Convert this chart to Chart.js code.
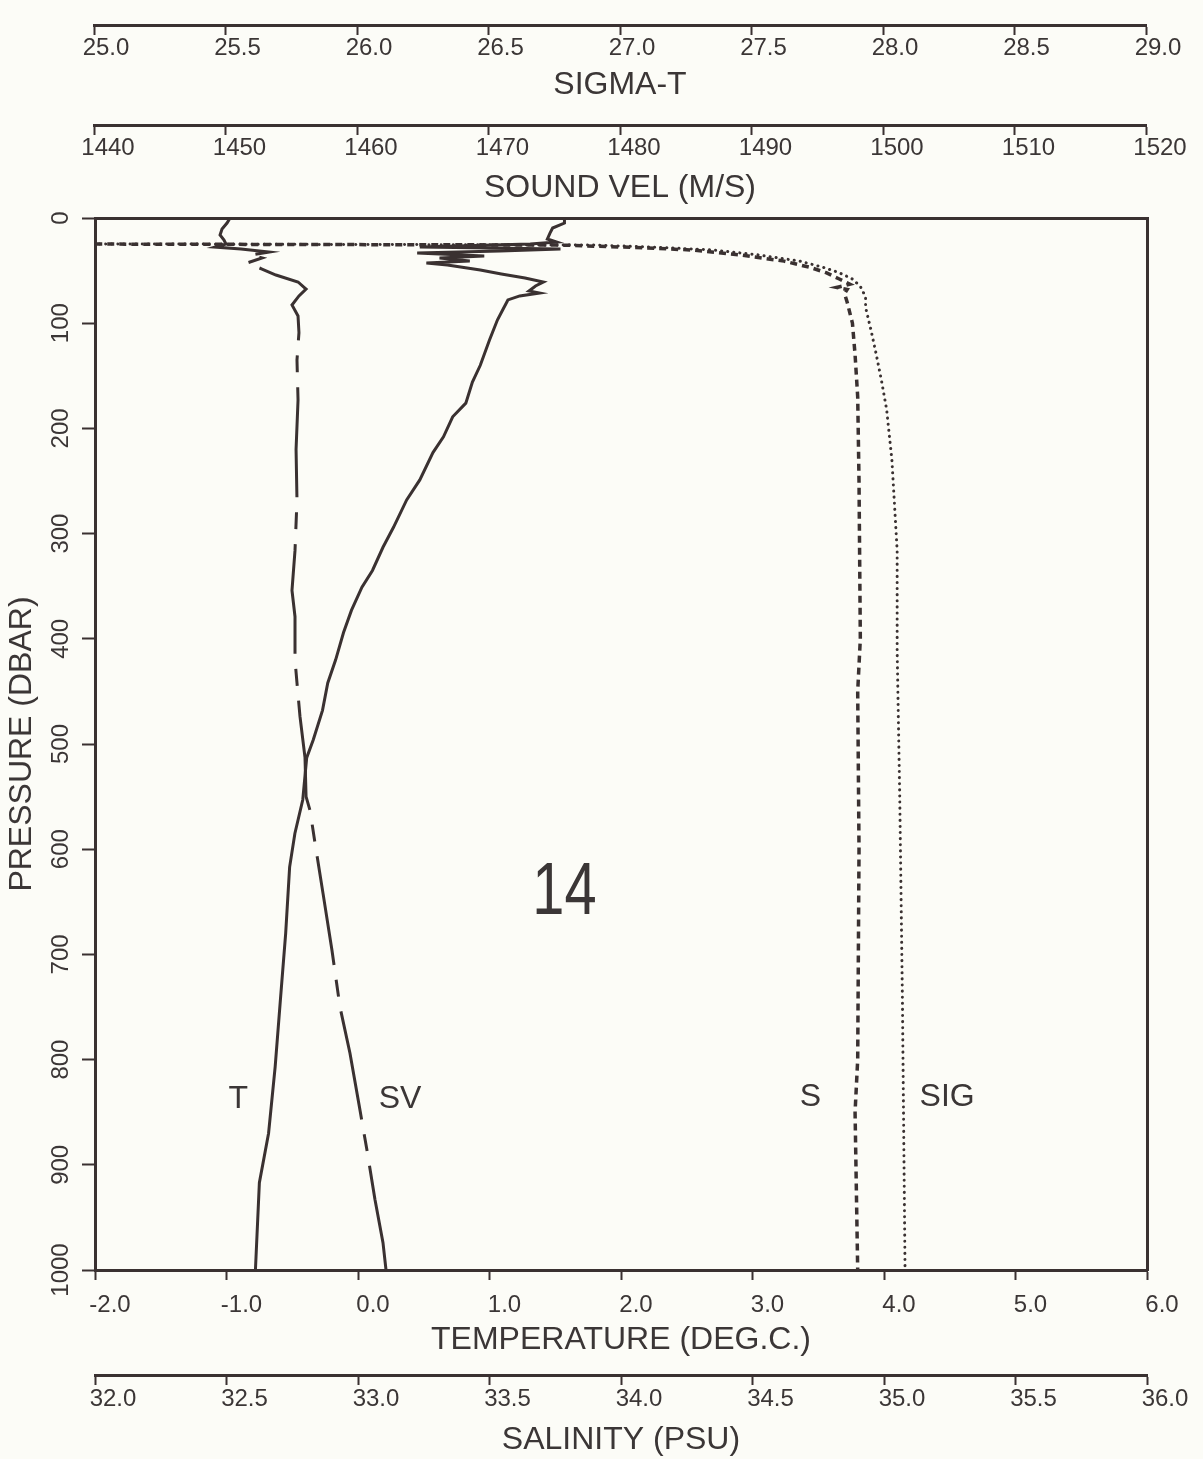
<!DOCTYPE html>
<html>
<head>
<meta charset="utf-8">
<script src="https://cdn.jsdelivr.net/npm/chart.js@4.4.1/dist/chart.umd.min.js"></script>
<style>
  html, body { margin: 0; padding: 0; background: #fcfcf7; }
  #wrap { position: relative; width: 1203px; height: 1459px; overflow: hidden; }
  canvas { position: absolute; left: 0; top: 0; }
</style>
</head>
<body>
<div id="wrap">
  <canvas id="main" width="1203" height="1459"></canvas>
  <canvas id="topAxes" width="1203" height="215"></canvas>
</div>
<script>
// ---------------- DATA ----------------
// Temperature profile (deg C) vs pressure (dbar)
const pressureT = [0, 4.8, 9.5, 14.3, 20, 22.8, 24.7, 27.6, 29.5, 31.4, 33.3, 36.1, 38.0, 40.9, 42.8, 44.7, 49.4, 53.2, 57.0, 60.8, 64.6, 69.4, 71.3, 74.1, 77.9, 87.5, 97, 116, 140, 156, 176, 189, 208, 223, 249, 268, 294, 313, 335, 351, 373, 394, 420, 442, 468, 496, 513, 553, 585, 617, 680, 743, 807, 870, 917, 1000];
const temperature = [1.57, 1.57, 1.48, 1.46, 1.44, 1.51, 1.31, 0.47, 1.54, 1.08, 0.45, 0.96, 0.62, 0.85, 0.52, 0.68, 0.93, 1.09, 1.27, 1.41, 1.35, 1.30, 1.38, 1.23, 1.14, 1.10, 1.06, 1.00, 0.93, 0.87, 0.82, 0.72, 0.65, 0.57, 0.47, 0.37, 0.27, 0.19, 0.11, 0.03, -0.05, -0.11, -0.17, -0.23, -0.27, -0.34, -0.39, -0.42, -0.48, -0.52, -0.55, -0.59, -0.63, -0.68, -0.75, -0.78];

// Sound velocity profile (m/s)
const pressureSV = [0, 4.8, 10.5, 16.2, 20.9, 24.7, 27.6, 29.5, 32.3, 35.2, 38, 42.8, 48.5, 54.2, 60.8, 67.5, 74.1, 82.7, 93.2, 109, 135, 173, 220, 268, 316, 354, 379, 420, 442, 474, 513, 550, 563, 594, 642, 696, 750, 794, 848, 886, 933, 974, 1000];
const soundVel = [1450.27, 1450.04, 1449.66, 1449.51, 1449.81, 1449.96, 1449.13, 1451.10, 1453.23, 1451.79, 1452.70, 1451.56, 1452.70, 1453.76, 1455.44, 1456.05, 1455.51, 1454.98, 1455.44, 1455.51, 1455.36, 1455.44, 1455.29, 1455.36, 1455.21, 1454.98, 1455.21, 1455.21, 1455.36, 1455.59, 1455.97, 1456.05, 1456.35, 1456.73, 1457.34, 1458.02, 1458.63, 1459.39, 1460.15, 1460.68, 1461.29, 1461.90, 1462.13];

// Salinity profile (PSU) - surface values are below the axis range
const pressureS = [0, 24, 25.7, 28, 30.4, 35, 41, 47, 52, 58, 63, 66, 68, 72, 80, 100, 130, 170, 250, 400, 450, 600, 800, 850, 1000];
const salinity = [30.5, 30.5, 33.77, 34.05, 34.27, 34.45, 34.62, 34.72, 34.78, 34.83, 34.87, 34.82, 34.86, 34.85, 34.86, 34.88, 34.89, 34.90, 34.905, 34.91, 34.90, 34.905, 34.90, 34.89, 34.90];

// Sigma-t profile - surface values are below the axis range
const pressureSig = [0, 24, 25.7, 28, 30.4, 35, 41, 47, 52, 58, 65, 75, 85, 106, 129, 154, 182, 230, 316, 411, 553, 743, 1000];
const sigmaT = [24.0, 24.0, 26.9, 27.15, 27.35, 27.52, 27.68, 27.77, 27.83, 27.88, 27.91, 27.93, 27.93, 27.95, 27.97, 27.99, 28.01, 28.03, 28.05, 28.05, 28.06, 28.07, 28.08];

// Axis ranges and tick steps
const pressureRange = [0, 1000, 100];
const temperatureRange = [-2, 6, 1];
const salinityRange = [32, 36, 0.5];
const soundVelRange = [1440, 1520, 10];
const sigmaRange = [25, 29, 0.5];

// Text labels placed in data coordinates (temperature, pressure)
const noteTexts = ['T', 'SV', 'S', 'SIG', '14'];
const noteTemp = [-0.91, 0.32, 3.44, 4.48, 1.57];
const notePres = [838, 838, 836, 836, 642];

// ---------------- STYLE ----------------
const INK = '#3a3131';
const TXT = '#3b3636';
const FONT = "'Liberation Sans', Arial, sans-serif";
Chart.defaults.font.family = FONT;
Chart.defaults.color = TXT;

const toXY = (ps, vs) => ps.map((p, i) => ({ x: vs[i], y: p }));

function axisStyle(extra) {
  return Object.assign({
    border: { display: true, width: 3, color: INK },
    grid: { drawOnChartArea: false, color: INK, tickColor: INK, tickWidth: 2, tickLength: 10 },
  }, extra);
}

const notesPlugin = {
  id: 'notes',
  afterDatasetsDraw(chart) {
    const { ctx, scales } = chart;
    ctx.save();
    ctx.fillStyle = TXT;
    ctx.textAlign = 'center';
    ctx.textBaseline = 'middle';
    noteTexts.forEach((t, i) => {
      const px = scales.xT.getPixelForValue(noteTemp[i]);
      const py = scales.y.getPixelForValue(notePres[i]);
      if (t === '14') {
        ctx.save();
        ctx.translate(px, py);
        ctx.scale(0.78, 1);
        ctx.font = "74px 'Liberation Sans', Arial, sans-serif";
        ctx.fillText(t, 0, 0);
        ctx.restore();
      } else {
        ctx.font = '32px ' + FONT;
        ctx.fillText(t, px, py);
      }
    });
    ctx.restore();
  }
};

// ---------------- MAIN CHART ----------------
new Chart(document.getElementById('main'), {
  type: 'line',
  data: {
    datasets: [
      { label: 'T', data: toXY(pressureT, temperature), xAxisID: 'xT', yAxisID: 'y',
        borderColor: INK, borderWidth: 3 },
      { label: 'SV', data: toXY(pressureSV, soundVel), xAxisID: 'xSV', yAxisID: 'y',
        borderColor: INK, borderWidth: 3, borderDash: [110, 15, 17, 15] },
      { label: 'S', data: toXY(pressureS, salinity), xAxisID: 'xS', yAxisID: 'y',
        borderColor: INK, borderWidth: 3.5, borderDash: [7, 5] },
      { label: 'SIG', data: toXY(pressureSig, sigmaT), xAxisID: 'xSIG', yAxisID: 'y',
        borderColor: INK, borderWidth: 3, borderDash: [0.1, 6], borderCapStyle: 'round' },
    ]
  },
  options: {
    responsive: false,
    animation: false,
    devicePixelRatio: 1,
    indexAxis: 'y',
    layout: { padding: { left: 0, right: 56, top: 218, bottom: 0 } },
    elements: { point: { radius: 0 }, line: { tension: 0 } },
    plugins: { legend: { display: false }, tooltip: { enabled: false } },
    scales: {
      y: axisStyle({
        axis: 'y', type: 'linear', position: 'left', reverse: true,
        min: pressureRange[0], max: pressureRange[1],
        grid: { drawOnChartArea: false, color: INK, tickColor: INK, tickWidth: 2, tickLength: 13 },
        ticks: { stepSize: pressureRange[2], minRotation: 90, maxRotation: 90, crossAlign: 'center',
                 padding: -6, autoSkip: false, font: { size: 24 }, color: TXT,
                 callback: v => String(v) },
        title: { display: true, text: 'PRESSURE (DBAR)', font: { size: 32 }, color: TXT, padding: { top: 3, bottom: 0 } },
        afterFit(s) { s.width = 95; }
      }),
      yR: axisStyle({
        axis: 'y', type: 'linear', position: 'right', min: 0, max: 1000,
        grid: { drawOnChartArea: false, drawTicks: false },
        ticks: { display: false },
        afterFit(s) { s.width = 0; }
      }),
      xT: axisStyle({
        axis: 'x', type: 'linear', position: 'bottom', weight: 0,
        min: temperatureRange[0], max: temperatureRange[1],
        ticks: { stepSize: temperatureRange[2], autoSkip: false, maxRotation: 0, padding: 11, labelOffset: 15,
                 font: { size: 24 }, callback: v => v.toFixed(1) },
        title: { display: true, text: 'TEMPERATURE (DEG.C.)', font: { size: 32 }, color: TXT, padding: { top: 0, bottom: 16 } },
        afterFit(s) { s.height = 105; }
      }),
      xS: axisStyle({
        axis: 'x', type: 'linear', position: 'bottom', weight: 1,
        min: salinityRange[0], max: salinityRange[1],
        ticks: { stepSize: salinityRange[2], autoSkip: false, maxRotation: 0, padding: 0, labelOffset: 18,
                 font: { size: 24 }, callback: v => v.toFixed(1) },
        title: { display: true, text: 'SALINITY (PSU)', font: { size: 32 }, color: TXT, padding: { top: 0, bottom: 0 } },
        afterFit(s) { s.height = 84; }
      }),
      xSV: axisStyle({
        axis: 'x', type: 'linear', position: 'top',
        min: soundVelRange[0], max: soundVelRange[1],
        grid: { drawOnChartArea: false, drawTicks: false },
        ticks: { display: false },
        afterFit(s) { s.height = 0; }
      }),
      xSIG: {
        axis: 'x', type: 'linear', display: false,
        min: sigmaRange[0], max: sigmaRange[1]
      }
    }
  },
  plugins: [notesPlugin]
});

// ---------------- TOP AXES (sigma-t and sound velocity) ----------------
new Chart(document.getElementById('topAxes'), {
  type: 'line',
  data: { datasets: [] },
  options: {
    responsive: false,
    animation: false,
    devicePixelRatio: 1,
    layout: { padding: { left: 94, right: 57, top: 5, bottom: 0 } },
    plugins: { legend: { display: false }, tooltip: { enabled: false } },
    scales: {
      y: { axis: 'y', type: 'linear', display: false, min: 0, max: 1 },
      xSig: axisStyle({
        axis: 'x', type: 'linear', position: 'bottom', weight: 0,
        min: sigmaRange[0], max: sigmaRange[1],
        ticks: { stepSize: sigmaRange[2], autoSkip: false, maxRotation: 0, padding: -1, labelOffset: 12,
                 font: { size: 24 }, callback: v => v.toFixed(1) },
        title: { display: true, text: 'SIGMA-T', font: { size: 32 }, color: TXT, padding: { top: 0, bottom: 21 } },
        afterFit(s) { s.height = 100; }
      }),
      xSound: axisStyle({
        axis: 'x', type: 'linear', position: 'bottom', weight: 1,
        min: soundVelRange[0], max: soundVelRange[1],
        ticks: { stepSize: soundVelRange[2], autoSkip: false, maxRotation: 0, padding: -1, labelOffset: 14,
                 font: { size: 24 }, callback: v => String(v) },
        title: { display: true, text: 'SOUND VEL (M/S)', font: { size: 32 }, color: TXT, padding: { top: 0, bottom: 8 } },
        afterFit(s) { s.height = 90; }
      })
    }
  }
});
</script>
</body>
</html>
